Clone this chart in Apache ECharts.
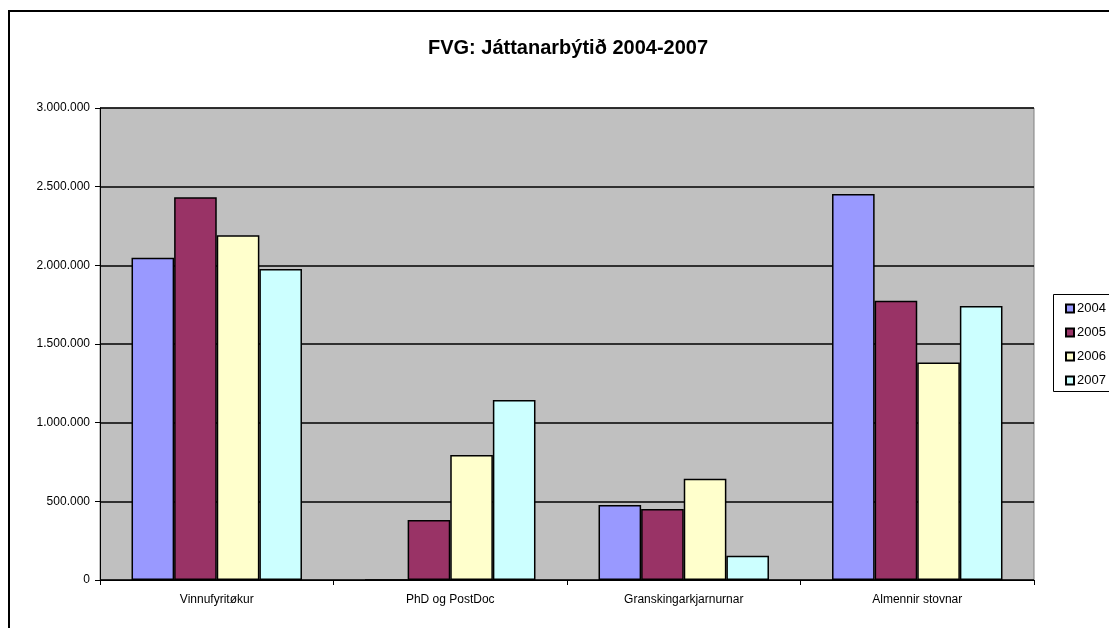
<!DOCTYPE html>
<html>
<head>
<meta charset="utf-8">
<script src="https://cdn.jsdelivr.net/npm/echarts@6/dist/echarts.min.js"></script>
<style>
html,body{margin:0;padding:0;background:#fff;}
#c{width:1109px;height:628px;}
</style>
</head>
<body>
<div id="c"></div>
<script>
const categories = ['Vinnufyritøkur', 'PhD og PostDoc', 'Granskingarkjarnurnar', 'Almennir stovnar'];
const years = ['2004', '2005', '2006', '2007'];
const v2004 = [2048000, 0, 477000, 2453000];
const v2005 = [2432000, 381000, 451000, 1775000];
const v2006 = [2192000, 794000, 644000, 1383000];
const v2007 = [1976000, 1144000, 154000, 1741000];
const colors = ['#9999FF', '#993366', '#FFFFCC', '#CCFFFF'];
const yTicks = [0, 500000, 1000000, 1500000, 2000000, 2500000, 3000000];

const values = [v2004, v2005, v2006, v2007];
const fmt = v => String(v).replace(/\B(?=(\d{3})+(?!\d))/g, '.');
const font = '"Liberation Sans", Arial, sans-serif';

const chart = echarts.init(document.getElementById('c'), null, {renderer: 'canvas'});
chart.setOption({
  animation: false,
  backgroundColor: '#fff',
  title: {
    text: 'FVG: Játtanarbýtið 2004-2007',
    left: 563, top: 33, textAlign: 'center',
    textStyle: {fontFamily: font, fontSize: 20, fontWeight: 'bold', color: '#000'}
  },
  graphic: [
    {type: 'rect', shape: {x: 9, y: 11, width: 1120, height: 640}, style: {fill: 'none', stroke: '#000', lineWidth: 2}, z: 100},
    {type: 'rect', shape: {x: 1053.5, y: 294.5, width: 70, height: 97}, style: {fill: '#fff', stroke: '#000', lineWidth: 1}, z: 1}
  ],
  legend: {
    orient: 'vertical',
    left: 1060, top: 297,
    itemWidth: 8, itemHeight: 8, itemGap: 11,
    icon: 'rect',
    textStyle: {fontFamily: font, fontSize: 13, color: '#000', padding: [0, 0, 0, -2]},
    data: years,
    z: 5
  },
  grid: {left: 100, right: 75, top: 108, bottom: 48, show: true, backgroundColor: '#C0C0C0', borderColor: '#808080', borderWidth: 1},
  xAxis: {
    type: 'category', data: categories,
    axisLine: {lineStyle: {color: '#000', width: 1}},
    axisTick: {show: true, length: 5, lineStyle: {color: '#000'}},
    axisLabel: {fontFamily: font, fontSize: 12, color: '#000', margin: 14}
  },
  yAxis: {
    type: 'value', min: 0, max: 3000000, interval: 500000,
    axisLine: {show: true, lineStyle: {color: '#000', width: 1}},
    axisTick: {show: true, length: 5, lineStyle: {color: '#000'}},
    axisLabel: {fontFamily: font, fontSize: 12, color: '#000', margin: 10, formatter: v => yTicks.includes(v) ? fmt(v) : ''},
    splitLine: {show: true, lineStyle: {color: '#000', width: 1.5}}
  },
  series: years.map((y, i) => ({
    name: y, type: 'bar', data: values[i],
    barGap: '0%', barCategoryGap: '27%',
    itemStyle: {color: colors[i], borderColor: '#000', borderWidth: 1.5}
  }))
});
</script>
</body>
</html>
